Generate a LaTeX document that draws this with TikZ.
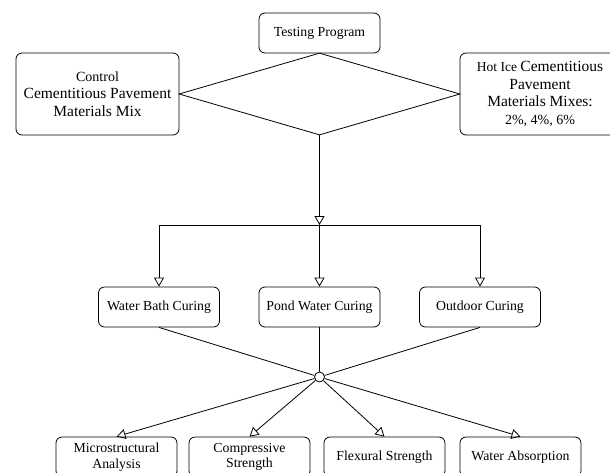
\documentclass[tikz,border=0pt]{standalone}
\usepackage{fontspec}
\setmainfont{Liberation Serif}
\usetikzlibrary{shapes,shapes.geometric,arrows.meta}

\begin{document}
\begin{tikzpicture}[x=1pt,y=-1pt]
			\tikzstyle{every node}=[font=\fontsize{13.8}{17}\selectfont]
			\tikzstyle{box}=[rectangle, rounded corners=6pt, draw, line width=0.8pt, align=center, inner sep=2pt, minimum width=121pt, minimum height=40pt]
			\tikzstyle{bigbox}=[box, font=\fontsize{15.5}{17.5}\selectfont, minimum height=82pt]
			\tikzstyle{link}=[line width=0.8pt]
			\tikzstyle{arr}=[link, -{Triangle[open,length=9pt,width=10pt]}]
			\useasboundingbox (0,0) rectangle (610,472);
			\node[box] (test) at (319.5,33) {Testing Program};
			\node[diamond, draw, link, minimum width=281pt, minimum height=82pt, inner sep=0pt] (dia) at (319.5,94) {};
			\node[bigbox, minimum width=163pt] (ctrl) at (97.5,94) {\fontsize{14}{17.5}\selectfont Control\\\fontsize{15.5}{17.5}\selectfont Cementitious Pavement\\Materials Mix};
			\node[bigbox, minimum width=160pt] (hot) at (540,94) {\fontsize{13.5}{17.5}\selectfont Hot Ice \fontsize{15.5}{17.5}\selectfont Cementitious\\Pavement\\Materials Mixes:\\\fontsize{14}{17.5}\selectfont 2\%, 4\%, 6\%};
			\coordinate (split) at (319.5,225);
			\node[box] (bath) at (159,307) {Water Bath Curing};
			\node[box] (pond) at (319.5,307) {Pond Water Curing};
			\node[box] (outd) at (480,307) {Outdoor Curing};
			\node[circle, draw, link, fill=white, minimum size=10pt, inner sep=0pt] (hub) at (319.5,377) {};
			\node[box, font=\fontsize{13.8}{15.5}\selectfont] (micro) at (116.5,457) {Microstructural\\Analysis};
			\node[box, font=\fontsize{13.8}{15.5}\selectfont] (comp) at (249.5,457) {Compressive\\Strength};
			\node[box] (flex) at (384.5,457) {Flexural Strength};
			\node[box] (absorb) at (520.5,457) {Water Absorption};
			\draw[arr] (dia.south) -- (split);
			\draw[arr] (split) -| (bath.north);
			\draw[arr] (split) -- (pond.north);
			\draw[arr] (split) -| (outd.north);
			\foreach \c in {bath,pond,outd}
				\draw[link] (\c.south) -- (hub);
			\foreach \t in {micro,comp,flex,absorb}
				\draw[arr] (hub) -- (\t.north);
\end{tikzpicture}
\end{document}
